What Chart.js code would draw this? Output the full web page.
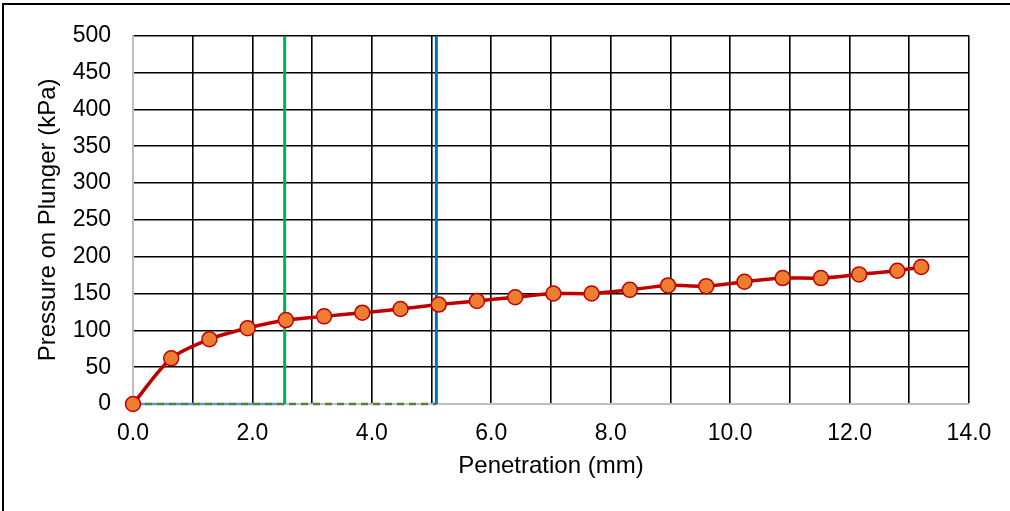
<!DOCTYPE html>
<html>
<head>
<meta charset="utf-8">
<script src="https://cdn.jsdelivr.net/npm/chart.js@4/dist/chart.umd.min.js"></script>
<style>
  html, body { margin: 0; padding: 0; background: #fff; overflow: hidden; }
  #wrap { position: relative; width: 1010px; height: 511px; }
  #frame { position: absolute; left: 2px; top: 3px; width: 1020px; height: 520px;
           border-top: 2px solid #000; border-left: 2px solid #000; pointer-events: none; }
</style>
</head>
<body>
<div id="wrap">
  <canvas id="c" width="1010" height="511"></canvas>
  <div id="frame"></div>
</div>
<script>
// Data
const penetration = [0, 0.64, 1.28, 1.92, 2.56, 3.2, 3.84, 4.48, 5.12, 5.76, 6.4, 7.04, 7.68, 8.32, 8.96, 9.6, 10.24, 10.88, 11.52, 12.16, 12.8, 13.2];
const pressure    = [0, 62, 88, 103, 114, 119, 124, 129, 135, 140, 145, 150, 150, 155, 161, 160, 166, 171, 171, 176, 181, 186];
const refPenetrations = [2.54, 5.08];   // vertical reference lines
const yMin = 0, yMax = 500, yStep = 50;
const xMin = 0, xMax = 14, xStep = 1, xLabelEvery = 2;
const xTitle = 'Penetration (mm)';
const yTitle = 'Pressure on Plunger (kPa)';

const FONT = { family: '"Liberation Sans", Arial, sans-serif', size: 23 };
const TFONT = { family: '"Liberation Sans", Arial, sans-serif', size: 24 };

const curve = penetration.map((x, i) => ({ x: x, y: pressure[i] }));
const vLine = (x) => [{ x: x, y: yMin }, { x: x, y: yMax }];
const hDash = (x) => [{ x: xMin, y: yMin }, { x: x, y: yMin }];

new Chart(document.getElementById('c'), {
  type: 'scatter',
  data: {
    datasets: [
      {
        data: curve, showLine: true, borderColor: '#C00000', borderWidth: 3.5,
        tension: 0.3, pointRadius: 7.5, pointBackgroundColor: '#ED7D31',
        pointBorderColor: '#C00000', pointBorderWidth: 1.5, clip: false
      },
      { data: vLine(refPenetrations[0]), showLine: true, borderColor: '#00B050', borderWidth: 3, pointRadius: 0 },
      { data: vLine(refPenetrations[1]), showLine: true, borderColor: '#0070C0', borderWidth: 3, pointRadius: 0 },
      { data: hDash(refPenetrations[1]), showLine: true, borderColor: '#548235', borderWidth: 2.5, borderDash: [7, 5], pointRadius: 0, clip: false },
      { data: hDash(refPenetrations[0]), showLine: true, borderColor: '#5B9BD5', borderWidth: 2.5, borderDash: [7, 5], borderDashOffset: 6, pointRadius: 0, clip: false }
    ]
  },
  options: {
    responsive: false,
    animation: false,
    layout: { padding: { top: 34, right: 41, bottom: 0, left: 0 } },
    plugins: { legend: { display: false }, tooltip: { enabled: false } },
    scales: {
      x: {
        type: 'linear', min: xMin, max: xMax,
        afterFit: (s) => { s.height = 107; },
        grid: { color: '#000', lineWidth: 1.6, drawTicks: false },
        border: { color: '#BFBFBF', width: 2 },
        ticks: {
          stepSize: xStep, padding: 16, color: '#000', font: FONT, maxRotation: 0, autoSkip: false,
          callback: (v) => (Math.round(v) % xLabelEvery === 0 ? Number(v).toFixed(1) : '')
        },
        title: { display: true, text: xTitle, color: '#000', font: TFONT, padding: { top: 0, bottom: 30 } }
      },
      y: {
        type: 'linear', min: yMin, max: yMax,
        afterFit: (s) => { s.width = 133; },
        grid: { color: '#000', lineWidth: 1.6, drawTicks: false },
        border: { color: '#BFBFBF', width: 2 },
        ticks: { stepSize: yStep, padding: 22, color: '#000', font: FONT },
        title: { display: true, text: yTitle, color: '#000', font: TFONT, padding: { top: 34, bottom: 0 } }
      }
    }
  }
});
</script>
</body>
</html>
